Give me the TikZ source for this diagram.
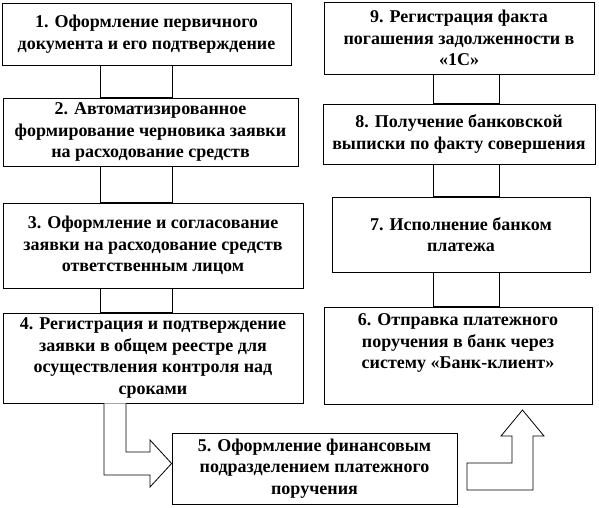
\documentclass[tikz,border=0pt]{standalone}
\usepackage{fontspec}
\setmainfont{Liberation Serif}
\usetikzlibrary{positioning}

\begin{document}
\begin{tikzpicture}[x=1pt, y=-1pt, font=\fontsize{18}{21.5}\selectfont\bfseries,
  box/.style={draw, line width=0.8pt, align=center, inner sep=2pt},
  bar/.style={draw, line width=0.8pt, fill=white},
  bent/.style={draw, line width=0.8pt, fill=white, line join=miter}]
  \useasboundingbox (0,0) rectangle (599,507);

  % left column
  \node[box, minimum width=289pt, minimum height=62pt] (b1) at (146.5,34)
    {1. Оформление первичного\\документа и его подтверждение};
  \node[box, minimum width=295pt, minimum height=68pt] (b2) at (150.5,132)
    {2. Автоматизированное\\формирование черновика заявки\\на расходование средств};
  \node[box, minimum width=300pt, minimum height=85pt] (b3) at (153,245.5)
    {3. Оформление и согласование\\заявки на расходование средств\\ответственным лицом};
  \node[box, minimum width=300pt, minimum height=90pt] (b4) at (153,358)
    {4. Регистрация и подтверждение\\заявки в общем реестре для\\осуществления контроля над\\сроками};
  \node[box, minimum width=285pt, minimum height=71pt] (b5) at (314.5,468.5)
    {5. Оформление финансовым\\подразделением платежного\\поручения};

  % right column
  \node[box, minimum width=268pt, minimum height=97pt] (b6) at (458,355.5)
    {6. Отправка платежного\\поручения в банк через\\систему «Банк-клиент»\\ \strut};
  \node[box, minimum width=258pt, minimum height=75pt] (b7) at (461,234.5)
    {7. Исполнение банком\\платежа};
  \node[box, minimum width=272pt, minimum height=60pt] (b8) at (459,134)
    {8. Получение банковской\\выписки по факту совершения};
  \node[box, minimum width=270pt, minimum height=72pt] (b9) at (459,38)
    {9. Регистрация факта\\погашения задолженности в\\«1С»};

  % wide links
  \draw[bar] (b1.south -| 100,0) rectangle (b2.north -| 172,0);
  \draw[bar] (b2.south -| 100,0) rectangle (b3.north -| 172,0);
  \draw[bar] (b3.south -| 100,0) rectangle (b4.north -| 172,0);
  \draw[bar] (b9.south -| 433,0) rectangle (b8.north -| 499,0);
  \draw[bar] (b8.south -| 433,0) rectangle (b7.north -| 499,0);
  \draw[bar] (b7.south -| 433,0) rectangle (b6.north -| 499,0);

  % bent arrows
  \draw[bent] (b4.south -| 104,0) |- (150,475) -- (150,487) -- (b5.west |- 0,463.5)
    -- (150,440) -- (150,452) -| (b4.south -| 126,0);
  \draw[bent] (467,490) -| (533,436) -- (544,436) -- (522.5,410)
    -- (501,436) -- (512,436) |- (467,463) -- cycle;
\end{tikzpicture}
\end{document}
